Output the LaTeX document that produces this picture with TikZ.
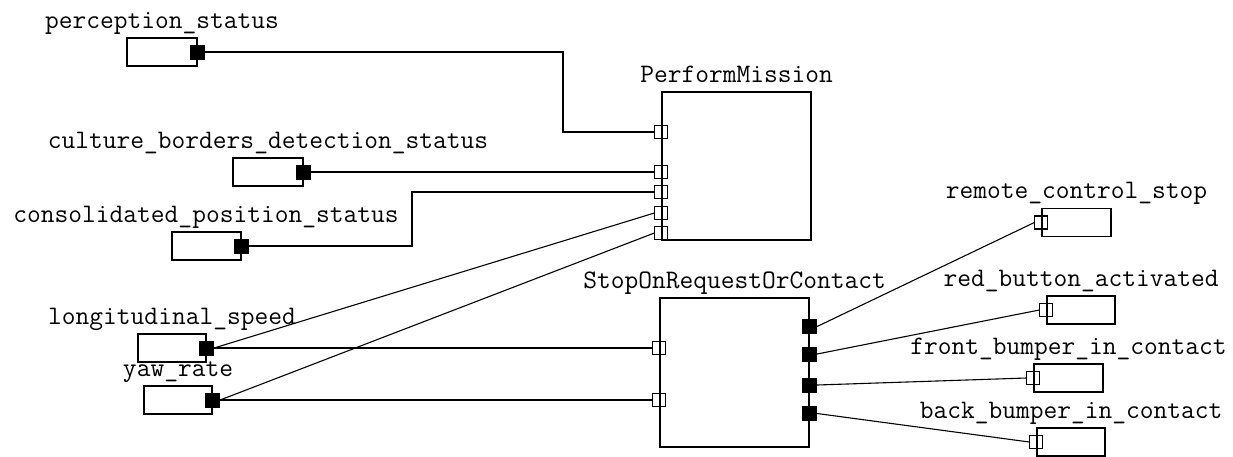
\documentclass[tikz,border=0pt]{standalone}
\usepackage{fontspec}
\usetikzlibrary{calc}
\tikzset{
  lbl/.style={anchor=base, inner sep=0pt, font=\fontsize{26.7pt}{30pt}\selectfont\ttfamily},
  blk/.style={draw, line width=1.2pt, inner sep=0pt, minimum width=#1, minimum height=28pt},
  blk/.default=70pt,
  comp/.style={draw, line width=1.2pt, inner sep=0pt, minimum width=149pt, minimum height=#1},
  inport/.style={draw, line width=1.1pt, inner sep=0pt, minimum size=13pt},
  outport/.style={draw, fill=black, line width=1pt, inner sep=0pt, minimum size=14pt},
  wire/.style={line width=1.1pt}
}
\begin{document}
\begin{tikzpicture}[x=1pt, y=-1pt]
\useasboundingbox (0,0) rectangle (1233,456);

% components
\node[comp=148pt] (pm) at (736.5,166) {};
\node[lbl] (pmL) at (736.5,82) {PerformMission};
\node[comp=149pt] (sr) at (734.5,372.5) {};
\node[lbl] (srL) at (734.5,288) {StopOnRequestOrContact};

% input ports of PerformMission
\node[inport] (pm1) at (pm.west |- {0,132}) {};
\node[inport] (pm2) at (pm.west |- {0,172}) {};
\node[inport] (pm3) at (pm.west |- {0,192}) {};
\node[inport] (pm4) at (pm.west |- {0,213}) {};
\node[inport] (pm5) at (pm.west |- {0,233}) {};

% ports of StopOnRequestOrContact
\node[inport] (sr1) at (sr.west |- {0,348}) {};
\node[inport] (sr2) at (sr.west |- {0,400}) {};
\node[outport] (so1) at (sr.east |- {0,326.5}) {};
\node[outport] (so2) at (sr.east |- {0,354}) {};
\node[outport] (so3) at (sr.east |- {0,385}) {};
\node[outport] (so4) at (sr.east |- {0,413.5}) {};

% source signals
\node[blk] (ps) at (162,52) {};
\node[lbl] (psL) at (162,28) {perception\_status};
\node[outport] (ps-o) at (ps.east) {};

\node[blk] (cb) at (268,172) {};
\node[lbl] (cbL) at (268,148) {culture\_borders\_detection\_status};
\node[outport] (cb-o) at (cb.east) {};

\node[blk=69pt] (cp) at (206.5,246) {};
\node[lbl] (cpL) at (206,222) {consolidated\_position\_status};
\node[outport] (cp-o) at (cp.east) {};

\node[blk=68pt] (ls) at (172,348) {};
\node[lbl] (lsL) at (172,324) {longitudinal\_speed};
\node[outport] (ls-o) at (ls.east) {};

\node[blk=68pt] (yr) at (178,400) {};
\node[lbl] (yrL) at (178,376) {yaw\_rate};
\node[outport] (yr-o) at (yr.east) {};

% sink signals
\node[blk=69pt] (rc) at (1076.5,222.5) {};
\node[lbl] (rcL) at (1076.5,198) {remote\_control\_stop};
\node[inport] (rc-i) at (rc.west) {};

\node[blk=68pt] (rb) at (1081,310) {};
\node[lbl] (rbL) at (1081,286) {red\_button\_activated};
\node[inport] (rb-i) at (rb.west) {};

\node[blk=69pt] (fb) at (1068.5,378) {};
\node[lbl] (fbL) at (1068.5,354) {front\_bumper\_in\_contact};
\node[inport] (fb-i) at (fb.west) {};

\node[blk=68pt] (bb) at (1071,442) {};
\node[lbl] (bbL) at (1071,418) {back\_bumper\_in\_contact};
\node[inport] (bb-i) at (bb.west) {};

% routing corners
\coordinate (k1) at (563,90);
\coordinate (k2) at (412,220);

% connectors
\draw[wire] (ps-o.east) -| (k1) |- (pm1.west);
\draw[wire] (cb-o.east) -- (pm2.west);
\draw[wire] (cp-o.east) -| (k2) |- (pm3.west);
\draw[wire] (ls-o.east) -- (pm4.west);
\draw[wire] (yr-o.east) -- (pm5.west);
\draw[wire] (ls-o.east) -- (sr1.west);
\draw[wire] (yr-o.east) -- (sr2.west);
\draw[wire] (so1.east) -- (rc-i.west);
\draw[wire] (so2.east) -- (rb-i.west);
\draw[wire] (so3.east) -- (fb-i.west);
\draw[wire] (so4.east) -- (bb-i.west);
\end{tikzpicture}
\end{document}
